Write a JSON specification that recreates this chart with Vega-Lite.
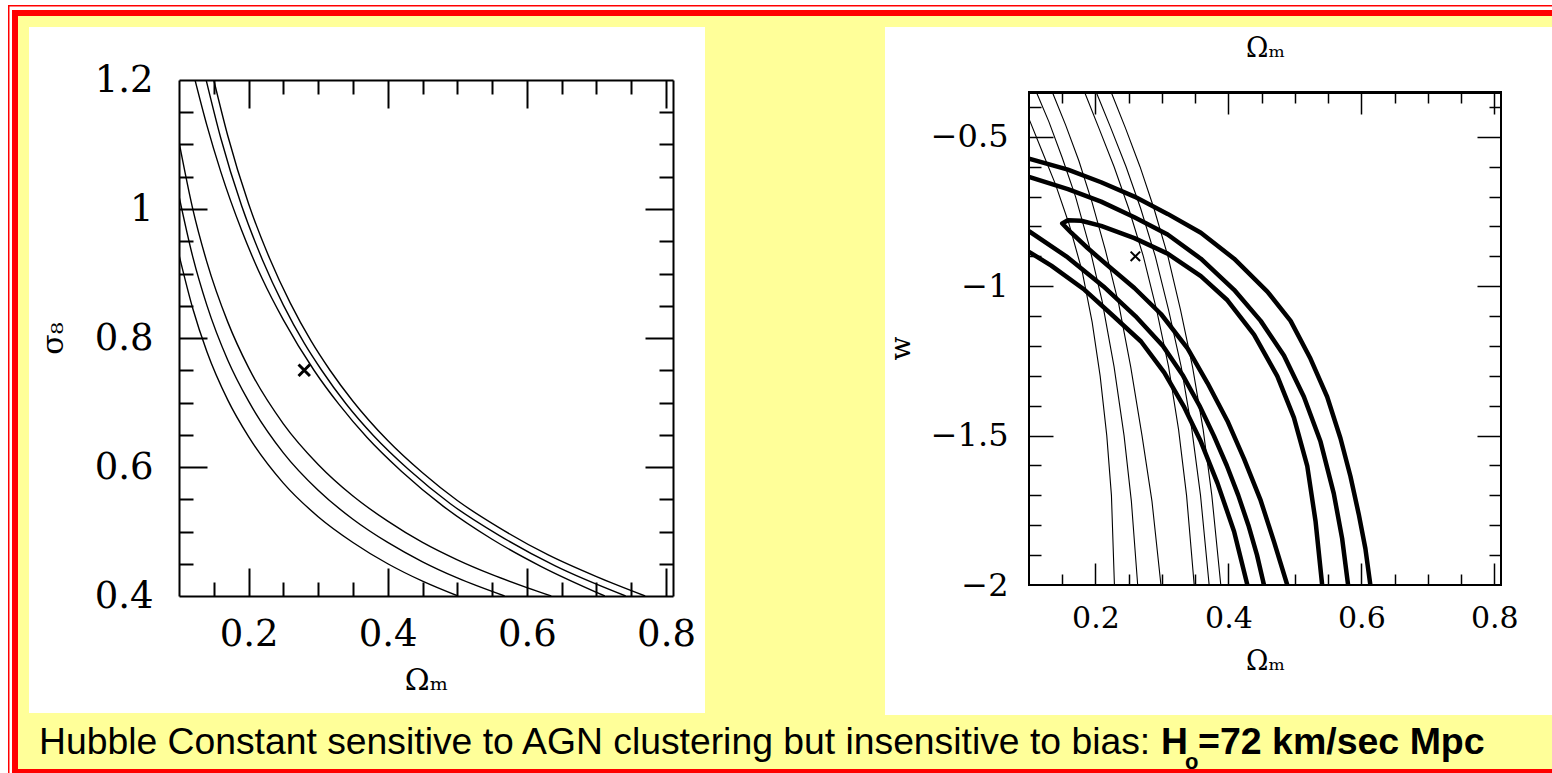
{
  "$schema": "https://vega.github.io/schema/vega-lite/v6.json",
  "usermeta": {"embedOptions": {"actions": false}},
  "background": "white",
  "padding": 0,
  "config": {
    "view": {"stroke": null},
    "axis": {"labelFont": "DejaVu Serif", "titleFont": "DejaVu Serif", "labelColor": "black", "titleColor": "black", "tickColor": "black", "domainColor": "black", "grid": false, "labelFlush": false, "labelOverlap": false, "labelBound": false, "titleFontWeight": "normal", "zindex": 1, "tickWidth": 2, "domainWidth": 2}
  },
  "datasets": {
    "left": [
      {"c": "L1", "x": 0.15, "y": 1.2}, {"c": "L1", "x": 0.17, "y": 1.114}, {"c": "L1", "x": 0.2, "y": 1.008}, {"c": "L1", "x": 0.23, "y": 0.924}, {"c": "L1", "x": 0.26, "y": 0.854}, {"c": "L1", "x": 0.29, "y": 0.795}, {"c": "L1", "x": 0.317, "y": 0.75}, {"c": "L1", "x": 0.35, "y": 0.702}, {"c": "L1", "x": 0.4, "y": 0.641}, {"c": "L1", "x": 0.45, "y": 0.591}, {"c": "L1", "x": 0.5, "y": 0.548}, {"c": "L1", "x": 0.56, "y": 0.506}, {"c": "L1", "x": 0.63, "y": 0.464}, {"c": "L1", "x": 0.7, "y": 0.43}, {"c": "L1", "x": 0.77, "y": 0.4},
      {"c": "L2", "x": 0.139, "y": 1.2}, {"c": "L2", "x": 0.16, "y": 1.11}, {"c": "L2", "x": 0.19, "y": 1.005}, {"c": "L2", "x": 0.22, "y": 0.921}, {"c": "L2", "x": 0.25, "y": 0.851}, {"c": "L2", "x": 0.28, "y": 0.792}, {"c": "L2", "x": 0.305, "y": 0.75}, {"c": "L2", "x": 0.34, "y": 0.698}, {"c": "L2", "x": 0.38, "y": 0.648}, {"c": "L2", "x": 0.43, "y": 0.596}, {"c": "L2", "x": 0.49, "y": 0.543}, {"c": "L2", "x": 0.56, "y": 0.494}, {"c": "L2", "x": 0.64, "y": 0.447}, {"c": "L2", "x": 0.742, "y": 0.4},
      {"c": "L3", "x": 0.123, "y": 1.2}, {"c": "L3", "x": 0.14, "y": 1.13}, {"c": "L3", "x": 0.16, "y": 1.058}, {"c": "L3", "x": 0.19, "y": 0.967}, {"c": "L3", "x": 0.22, "y": 0.891}, {"c": "L3", "x": 0.25, "y": 0.828}, {"c": "L3", "x": 0.294, "y": 0.75}, {"c": "L3", "x": 0.33, "y": 0.697}, {"c": "L3", "x": 0.37, "y": 0.646}, {"c": "L3", "x": 0.42, "y": 0.593}, {"c": "L3", "x": 0.48, "y": 0.539}, {"c": "L3", "x": 0.55, "y": 0.488}, {"c": "L3", "x": 0.62, "y": 0.446}, {"c": "L3", "x": 0.712, "y": 0.4},
      {"c": "L4", "x": 0.1, "y": 1.104}, {"c": "L4", "x": 0.12, "y": 0.999}, {"c": "L4", "x": 0.14, "y": 0.918}, {"c": "L4", "x": 0.17, "y": 0.825}, {"c": "L4", "x": 0.2, "y": 0.754}, {"c": "L4", "x": 0.25, "y": 0.667}, {"c": "L4", "x": 0.3, "y": 0.604}, {"c": "L4", "x": 0.35, "y": 0.555}, {"c": "L4", "x": 0.4, "y": 0.516}, {"c": "L4", "x": 0.45, "y": 0.483}, {"c": "L4", "x": 0.5, "y": 0.456}, {"c": "L4", "x": 0.55, "y": 0.433}, {"c": "L4", "x": 0.6, "y": 0.413}, {"c": "L4", "x": 0.635, "y": 0.4},
      {"c": "L5", "x": 0.1, "y": 1.02}, {"c": "L5", "x": 0.12, "y": 0.925}, {"c": "L5", "x": 0.14, "y": 0.851}, {"c": "L5", "x": 0.17, "y": 0.766}, {"c": "L5", "x": 0.2, "y": 0.702}, {"c": "L5", "x": 0.25, "y": 0.622}, {"c": "L5", "x": 0.3, "y": 0.564}, {"c": "L5", "x": 0.35, "y": 0.519}, {"c": "L5", "x": 0.4, "y": 0.483}, {"c": "L5", "x": 0.45, "y": 0.453}, {"c": "L5", "x": 0.5, "y": 0.428}, {"c": "L5", "x": 0.568, "y": 0.4},
      {"c": "L6", "x": 0.1, "y": 0.929}, {"c": "L6", "x": 0.12, "y": 0.845}, {"c": "L6", "x": 0.14, "y": 0.779}, {"c": "L6", "x": 0.17, "y": 0.704}, {"c": "L6", "x": 0.2, "y": 0.647}, {"c": "L6", "x": 0.25, "y": 0.575}, {"c": "L6", "x": 0.3, "y": 0.523}, {"c": "L6", "x": 0.35, "y": 0.483}, {"c": "L6", "x": 0.4, "y": 0.45}, {"c": "L6", "x": 0.45, "y": 0.423}, {"c": "L6", "x": 0.501, "y": 0.4}
    ],
    "thin": [
      {"c": "C1", "x": 0.1, "y": -0.44}, {"c": "C1", "x": 0.12, "y": -0.55}, {"c": "C1", "x": 0.14, "y": -0.66}, {"c": "C1", "x": 0.16, "y": -0.79}, {"c": "C1", "x": 0.18, "y": -0.95}, {"c": "C1", "x": 0.195, "y": -1.12}, {"c": "C1", "x": 0.207, "y": -1.3}, {"c": "C1", "x": 0.217, "y": -1.5}, {"c": "C1", "x": 0.224, "y": -1.7}, {"c": "C1", "x": 0.2285, "y": -2.0},
      {"c": "C2", "x": 0.111, "y": -0.35}, {"c": "C2", "x": 0.13, "y": -0.45}, {"c": "C2", "x": 0.15, "y": -0.57}, {"c": "C2", "x": 0.17, "y": -0.7}, {"c": "C2", "x": 0.19, "y": -0.86}, {"c": "C2", "x": 0.21, "y": -1.05}, {"c": "C2", "x": 0.228, "y": -1.27}, {"c": "C2", "x": 0.243, "y": -1.5}, {"c": "C2", "x": 0.254, "y": -1.72}, {"c": "C2", "x": 0.2635, "y": -2.0},
      {"c": "C3", "x": 0.135, "y": -0.35}, {"c": "C3", "x": 0.155, "y": -0.46}, {"c": "C3", "x": 0.175, "y": -0.58}, {"c": "C3", "x": 0.195, "y": -0.72}, {"c": "C3", "x": 0.215, "y": -0.88}, {"c": "C3", "x": 0.235, "y": -1.06}, {"c": "C3", "x": 0.253, "y": -1.27}, {"c": "C3", "x": 0.27, "y": -1.5}, {"c": "C3", "x": 0.285, "y": -1.72}, {"c": "C3", "x": 0.2985, "y": -2.0},
      {"c": "R1", "x": 0.1835, "y": -0.35}, {"c": "R1", "x": 0.205, "y": -0.47}, {"c": "R1", "x": 0.228, "y": -0.6}, {"c": "R1", "x": 0.25, "y": -0.74}, {"c": "R1", "x": 0.272, "y": -0.9}, {"c": "R1", "x": 0.292, "y": -1.08}, {"c": "R1", "x": 0.31, "y": -1.27}, {"c": "R1", "x": 0.325, "y": -1.48}, {"c": "R1", "x": 0.337, "y": -1.7}, {"c": "R1", "x": 0.3485, "y": -2.0},
      {"c": "R2", "x": 0.201, "y": -0.35}, {"c": "R2", "x": 0.223, "y": -0.47}, {"c": "R2", "x": 0.246, "y": -0.6}, {"c": "R2", "x": 0.268, "y": -0.74}, {"c": "R2", "x": 0.29, "y": -0.9}, {"c": "R2", "x": 0.31, "y": -1.08}, {"c": "R2", "x": 0.329, "y": -1.27}, {"c": "R2", "x": 0.345, "y": -1.48}, {"c": "R2", "x": 0.358, "y": -1.7}, {"c": "R2", "x": 0.371, "y": -2.0},
      {"c": "R3", "x": 0.2235, "y": -0.35}, {"c": "R3", "x": 0.245, "y": -0.47}, {"c": "R3", "x": 0.267, "y": -0.6}, {"c": "R3", "x": 0.288, "y": -0.74}, {"c": "R3", "x": 0.309, "y": -0.9}, {"c": "R3", "x": 0.328, "y": -1.08}, {"c": "R3", "x": 0.346, "y": -1.27}, {"c": "R3", "x": 0.362, "y": -1.48}, {"c": "R3", "x": 0.375, "y": -1.7}, {"c": "R3", "x": 0.3885, "y": -2.0}
    ],
    "thick": [
      {"c": "u3", "x": 0.1, "y": -0.573}, {"c": "u3", "x": 0.1585, "y": -0.61}, {"c": "u3", "x": 0.2085, "y": -0.652}, {"c": "u3", "x": 0.2585, "y": -0.7}, {"c": "u3", "x": 0.3085, "y": -0.758}, {"c": "u3", "x": 0.3585, "y": -0.821}, {"c": "u3", "x": 0.4085, "y": -0.908}, {"c": "u3", "x": 0.4585, "y": -1.018}, {"c": "u3", "x": 0.4935, "y": -1.116}, {"c": "u3", "x": 0.5235, "y": -1.243}, {"c": "u3", "x": 0.5485, "y": -1.37}, {"c": "u3", "x": 0.5685, "y": -1.509}, {"c": "u3", "x": 0.5835, "y": -1.636}, {"c": "u3", "x": 0.596, "y": -1.763}, {"c": "u3", "x": 0.606, "y": -1.878}, {"c": "u3", "x": 0.6135, "y": -2.0},
      {"c": "u2", "x": 0.1, "y": -0.634}, {"c": "u2", "x": 0.1585, "y": -0.675}, {"c": "u2", "x": 0.2085, "y": -0.717}, {"c": "u2", "x": 0.2585, "y": -0.769}, {"c": "u2", "x": 0.3085, "y": -0.827}, {"c": "u2", "x": 0.3585, "y": -0.908}, {"c": "u2", "x": 0.4085, "y": -1.012}, {"c": "u2", "x": 0.4485, "y": -1.116}, {"c": "u2", "x": 0.4835, "y": -1.232}, {"c": "u2", "x": 0.5135, "y": -1.37}, {"c": "u2", "x": 0.5385, "y": -1.52}, {"c": "u2", "x": 0.5585, "y": -1.694}, {"c": "u2", "x": 0.571, "y": -1.844}, {"c": "u2", "x": 0.58, "y": -2.0},
      {"c": "d2", "x": 0.1, "y": -0.816}, {"c": "d2", "x": 0.156, "y": -0.9}, {"c": "d2", "x": 0.2116, "y": -1.0}, {"c": "d2", "x": 0.26, "y": -1.1}, {"c": "d2", "x": 0.3015, "y": -1.2}, {"c": "d2", "x": 0.3318, "y": -1.3}, {"c": "d2", "x": 0.3565, "y": -1.4}, {"c": "d2", "x": 0.378, "y": -1.5}, {"c": "d2", "x": 0.3975, "y": -1.6}, {"c": "d2", "x": 0.4148, "y": -1.7}, {"c": "d2", "x": 0.43, "y": -1.8}, {"c": "d2", "x": 0.443, "y": -1.9}, {"c": "d2", "x": 0.4535, "y": -2.0},
      {"c": "d3", "x": 0.1, "y": -0.885}, {"c": "d3", "x": 0.1335, "y": -0.931}, {"c": "d3", "x": 0.1835, "y": -1.012}, {"c": "d3", "x": 0.2235, "y": -1.093}, {"c": "d3", "x": 0.2685, "y": -1.185}, {"c": "d3", "x": 0.3035, "y": -1.289}, {"c": "d3", "x": 0.3335, "y": -1.405}, {"c": "d3", "x": 0.3585, "y": -1.52}, {"c": "d3", "x": 0.3835, "y": -1.659}, {"c": "d3", "x": 0.4085, "y": -1.821}, {"c": "d3", "x": 0.4285, "y": -2.0}
    ],
    "loop": [
      {"i": 0, "x": 0.4885, "y": -2.0}, {"i": 1, "x": 0.4685, "y": -1.855}, {"i": 2, "x": 0.4485, "y": -1.717}, {"i": 3, "x": 0.4235, "y": -1.578}, {"i": 4, "x": 0.3985, "y": -1.451}, {"i": 5, "x": 0.3685, "y": -1.324}, {"i": 6, "x": 0.3385, "y": -1.208}, {"i": 7, "x": 0.2985, "y": -1.093}, {"i": 8, "x": 0.2585, "y": -1.006}, {"i": 9, "x": 0.2185, "y": -0.931}, {"i": 10, "x": 0.1885, "y": -0.873}, {"i": 11, "x": 0.1635, "y": -0.821}, {"i": 12, "x": 0.15, "y": -0.79}, {"i": 13, "x": 0.1585, "y": -0.779}, {"i": 14, "x": 0.1785, "y": -0.781}, {"i": 15, "x": 0.2085, "y": -0.798}, {"i": 16, "x": 0.2585, "y": -0.839}, {"i": 17, "x": 0.3085, "y": -0.891}, {"i": 18, "x": 0.3585, "y": -0.966}, {"i": 19, "x": 0.3985, "y": -1.047}, {"i": 20, "x": 0.4385, "y": -1.162}, {"i": 21, "x": 0.4735, "y": -1.301}, {"i": 22, "x": 0.4985, "y": -1.44}, {"i": 23, "x": 0.5185, "y": -1.601}, {"i": 24, "x": 0.531, "y": -1.786}, {"i": 25, "x": 0.541, "y": -2.0}
    ]
  },
  "spacing": 356,
  "bounds": "flush",
  "hconcat": [
    {
      "width": 494,
      "height": 516,
      "resolve": {"axis": {"x": "independent", "y": "independent"}},
      "layer": [
        {"data": {"values": [{}]}, "mark": {"type": "rect", "color": "white"},
         "encoding": {"x": {"datum": -0.155831, "scale": {"domain": [0.1, 0.81], "nice": false, "zero": false}, "axis": null}, "x2": {"datum": 2.074764}, "y": {"datum": 1.324031, "scale": {"domain": [0.4, 1.2], "nice": false, "zero": false}, "axis": null}, "y2": {"datum": 0.125581}}},
        {"data": {"values": [{}]}, "mark": {"type": "rect", "color": "#FFFF99"},
         "encoding": {
           "x": {"datum": -0.131398, "scale": {"domain": [0.1, 0.81], "nice": false, "zero": false}, "axis": {"orient": "top", "values": [0.15, 0.25, 0.3, 0.35, 0.45, 0.5, 0.55, 0.65, 0.7, 0.75], "labels": false, "domain": false, "tickSize": -14, "title": null, "zindex": 2}},
           "x2": {"datum": 2.074764},
           "y": {"datum": 1.299225, "scale": {"domain": [0.4, 1.2], "nice": false, "zero": false}, "axis": {"orient": "right", "values": [0.45, 0.5, 0.55, 0.65, 0.7, 0.75, 0.85, 0.9, 0.95, 1.05, 1.1, 1.15], "labels": false, "domain": false, "tickSize": -14, "title": null, "zindex": 2}},
           "y2": {"datum": 0.131783}}},
        {"data": {"values": [{}]}, "mark": {"type": "rect", "color": "#FF0000"},
         "encoding": {"x": {"datum": -0.14577, "scale": {"domain": [0.1, 0.81], "nice": false, "zero": false}, "axis": null}, "x2": {"datum": 2.074764}, "y": {"datum": 1.316279, "scale": {"domain": [0.4, 1.2], "nice": false, "zero": false}, "axis": null}, "y2": {"datum": 1.313953}}},
        {"data": {"values": [{}]}, "mark": {"type": "rect", "color": "#FF0000"},
         "encoding": {"x": {"datum": -0.14577, "scale": {"domain": [0.1, 0.81], "nice": false, "zero": false}, "axis": null}, "x2": {"datum": -0.143614}, "y": {"datum": 1.316279, "scale": {"domain": [0.4, 1.2], "nice": false, "zero": false}, "axis": null}, "y2": {"datum": 0.125581}}},
        {"data": {"values": [{}]}, "mark": {"type": "rect", "color": "#FF0000"},
         "encoding": {"x": {"datum": -0.140022, "scale": {"domain": [0.1, 0.81], "nice": false, "zero": false}, "axis": null}, "x2": {"datum": 2.074764}, "y": {"datum": 1.308527, "scale": {"domain": [0.4, 1.2], "nice": false, "zero": false}, "axis": null}, "y2": {"datum": 1.299225}}},
        {"data": {"values": [{}]}, "mark": {"type": "rect", "color": "#FF0000"},
         "encoding": {"x": {"datum": -0.140022, "scale": {"domain": [0.1, 0.81], "nice": false, "zero": false}, "axis": null}, "x2": {"datum": -0.131398}, "y": {"datum": 1.308527, "scale": {"domain": [0.4, 1.2], "nice": false, "zero": false}, "axis": null}, "y2": {"datum": 0.125581}}},
        {"data": {"values": [{}]}, "mark": {"type": "rect", "color": "#FF0000"},
         "encoding": {"x": {"datum": -0.140022, "scale": {"domain": [0.1, 0.81], "nice": false, "zero": false}, "axis": null}, "x2": {"datum": 2.074764}, "y": {"datum": 0.131783, "scale": {"domain": [0.4, 1.2], "nice": false, "zero": false}, "axis": null}, "y2": {"datum": 0.125581}}},
        {"data": {"values": [{}]}, "mark": {"type": "rect", "color": "white"},
         "encoding": {
           "x": {"datum": -0.115587, "scale": {"domain": [0.1, 0.81], "nice": false, "zero": false}, "axis": {"orient": "bottom", "values": [0.15, 0.25, 0.3, 0.35, 0.45, 0.5, 0.55, 0.65, 0.7, 0.75], "labels": false, "domain": false, "tickSize": -14, "title": null, "zindex": 2}},
           "x2": {"datum": 0.855991},
           "y": {"datum": 1.282171, "scale": {"domain": [0.4, 1.2], "nice": false, "zero": false}, "axis": {"orient": "left", "values": [0.45, 0.5, 0.55, 0.65, 0.7, 0.75, 0.85, 0.9, 0.95, 1.05, 1.1, 1.15], "labels": false, "domain": false, "tickSize": -14, "title": null, "zindex": 2}},
           "y2": {"datum": 0.218605}}},
        {"data": {"values": [{}]}, "mark": {"type": "rect", "color": "white"},
         "encoding": {
           "x": {"datum": 1.114696, "scale": {"domain": [0.1, 0.81], "nice": false, "zero": false}, "axis": {"orient": "top", "values": [0.2, 0.4, 0.6, 0.8], "labels": false, "domain": true, "tickSize": -28, "title": null, "zindex": 2}},
           "x2": {"datum": 2.074764},
           "y": {"datum": 1.282171, "scale": {"domain": [0.4, 1.2], "nice": false, "zero": false}, "axis": {"orient": "right", "values": [0.6, 0.8, 1], "labels": false, "domain": true, "tickSize": -28, "title": null, "zindex": 2}},
           "y2": {"datum": 0.215504}}},
        {"data": {"values": [{"t": "Hubble Constant sensitive to AGN clustering but insensitive to bias:"}]},
         "mark": {"type": "text", "font": "Liberation Sans", "fontSize": 37.3, "align": "left", "baseline": "alphabetic", "color": "black"},
         "encoding": {"x": {"datum": -0.101215, "scale": {"domain": [0.1, 0.81], "nice": false, "zero": false}, "axis": null}, "y": {"datum": 0.155039, "scale": {"domain": [0.4, 1.2], "nice": false, "zero": false}, "axis": null}, "text": {"field": "t"}}},
        {"data": {"values": [{"t": "H"}]},
         "mark": {"type": "text", "font": "Liberation Sans", "fontWeight": "bold", "fontSize": 37.3, "align": "left", "baseline": "alphabetic", "color": "black"},
         "encoding": {"x": {"datum": 1.511379, "scale": {"domain": [0.1, 0.81], "nice": false, "zero": false}, "axis": null}, "y": {"datum": 0.155039, "scale": {"domain": [0.4, 1.2], "nice": false, "zero": false}, "axis": null}, "text": {"field": "t"}}},
        {"data": {"values": [{"t": "o"}]},
         "mark": {"type": "text", "font": "Liberation Sans", "fontWeight": "bold", "fontSize": 22, "align": "left", "baseline": "alphabetic", "color": "black"},
         "encoding": {"x": {"datum": 1.545867, "scale": {"domain": [0.1, 0.81], "nice": false, "zero": false}, "axis": null}, "y": {"datum": 0.131783, "scale": {"domain": [0.4, 1.2], "nice": false, "zero": false}, "axis": null}, "text": {"field": "t"}}},
        {"data": {"values": [{"t": "=72 km/sec Mpc"}]},
         "mark": {"type": "text", "font": "Liberation Sans", "fontWeight": "bold", "fontSize": 37.5, "align": "left", "baseline": "alphabetic", "color": "black"},
         "encoding": {"x": {"datum": 1.564558, "scale": {"domain": [0.1, 0.81], "nice": false, "zero": false}, "axis": null}, "y": {"datum": 0.155039, "scale": {"domain": [0.4, 1.2], "nice": false, "zero": false}, "axis": null}, "text": {"field": "t"}}},
        {"data": {"name": "left"},
         "mark": {"type": "line", "color": "black", "strokeWidth": 1.4, "interpolate": "monotone", "clip": true},
         "encoding": {
           "x": {"field": "x", "type": "quantitative", "scale": {"domain": [0.1, 0.81], "nice": false, "zero": false},
                 "axis": {"orient": "bottom", "values": [0.2, 0.4, 0.6, 0.8], "format": "~g", "ticks": false, "domain": true, "labelFontSize": 37, "labelPadding": 20, "title": "Ωₘ", "titleFontSize": 30, "titlePadding": 13, "zindex": 2}},
           "y": {"field": "y", "type": "quantitative", "scale": {"domain": [0.4, 1.2], "nice": false, "zero": false},
                 "axis": {"orient": "left", "values": [0.4, 0.6, 0.8, 1, 1.2], "format": "~g", "ticks": false, "domain": true, "labelFontSize": 37, "labelPadding": 26, "title": "σ₈", "titleFontSize": 30, "titlePadding": 26, "zindex": 2}},
           "detail": {"field": "c"}}},
        {"data": {"values": [{"x": 0.28, "y": 0.75}]},
         "mark": {"type": "point", "shape": "M-1,-1L1,1M1,-1L-1,1", "filled": false, "color": "black", "strokeWidth": 3, "size": 130, "opacity": 1},
         "encoding": {
           "x": {"field": "x", "type": "quantitative", "scale": {"domain": [0.1, 0.81], "nice": false, "zero": false}, "axis": {"orient": "bottom", "values": [0.2, 0.4, 0.6, 0.8], "labels": false, "domain": false, "tickSize": -28, "title": null, "zindex": 2}},
           "y": {"field": "y", "type": "quantitative", "scale": {"domain": [0.4, 1.2], "nice": false, "zero": false}, "axis": {"orient": "left", "values": [0.6, 0.8, 1], "labels": false, "domain": false, "tickSize": -28, "title": null, "zindex": 2}}}}
      ]
    },
    {
      "width": 472,
      "height": 505,
      "resolve": {"axis": {"x": "independent", "y": "independent"}},
      "layer": [
        {"data": {"values": [{}]},
         "mark": {"type": "rect", "filled": false, "stroke": "black", "strokeWidth": 2},
         "encoding": {
           "x": {"datum": 0.1, "type": "quantitative", "scale": {"domain": [0.1, 0.81], "nice": false, "zero": false},
                 "axis": {"orient": "bottom", "values": [0.2, 0.4, 0.6, 0.8], "format": "~g", "ticks": false, "domain": false, "labelFontSize": 30, "labelPadding": 18, "title": "Ωₘ", "titleFontSize": 27, "titlePadding": 15, "zindex": 2}},
           "x2": {"datum": 0.81},
           "y": {"datum": -2, "type": "quantitative", "scale": {"domain": [-2, -0.30984], "nice": false, "zero": false},
                 "axis": {"orient": "left", "values": [-0.5, -1, -1.5, -2], "format": "~g", "ticks": false, "domain": false, "labelFontSize": 32, "labelPadding": 21, "title": "w", "titleFontSize": 28, "titlePadding": 15, "titleY": 268, "zindex": 2}},
           "y2": {"datum": -0.35}}},
        {"data": {"name": "thin"},
         "mark": {"type": "line", "color": "black", "strokeWidth": 1.1, "clip": true},
         "encoding": {
           "x": {"field": "x", "type": "quantitative", "scale": {"domain": [0.1, 0.81], "nice": false, "zero": false}, "axis": {"orient": "bottom", "values": [0.2, 0.4, 0.6, 0.8], "labels": false, "domain": false, "tickSize": -22, "tickWidth": 1.5, "title": null, "zindex": 2}},
           "y": {"field": "y", "type": "quantitative", "scale": {"domain": [-2, -0.30984], "nice": false, "zero": false}, "axis": {"orient": "left", "values": [-0.5, -1, -1.5], "labels": false, "domain": false, "tickSize": -24, "tickWidth": 1.5, "title": null, "zindex": 2}},
           "detail": {"field": "c"}}},
        {"data": {"name": "thick"},
         "mark": {"type": "line", "color": "black", "strokeWidth": 4.5, "strokeJoin": "round", "clip": true},
         "encoding": {
           "x": {"field": "x", "type": "quantitative", "scale": {"domain": [0.1, 0.81], "nice": false, "zero": false}, "axis": {"orient": "bottom", "values": [0.15, 0.25, 0.3, 0.35, 0.45, 0.5, 0.55, 0.65, 0.7, 0.75], "labels": false, "domain": false, "tickSize": -11, "tickWidth": 1.5, "title": null, "zindex": 2}},
           "y": {"field": "y", "type": "quantitative", "scale": {"domain": [-2, -0.30984], "nice": false, "zero": false}, "axis": {"orient": "left", "values": [-0.4, -0.6, -0.7, -0.8, -0.9, -1.1, -1.2, -1.3, -1.4, -1.6, -1.7, -1.8, -1.9], "labels": false, "domain": false, "tickSize": -12, "tickWidth": 1.5, "title": null, "zindex": 2}},
           "detail": {"field": "c"}}},
        {"data": {"name": "loop"},
         "mark": {"type": "line", "color": "black", "strokeWidth": 4.5, "strokeJoin": "round", "clip": true},
         "encoding": {
           "x": {"field": "x", "type": "quantitative", "scale": {"domain": [0.1, 0.81], "nice": false, "zero": false}, "axis": {"orient": "top", "offset": -12, "values": [0.2, 0.4, 0.6, 0.8], "labels": false, "domain": true, "domainWidth": 3, "tickSize": -22, "tickWidth": 1.5, "title": "Ωₘ", "titleFontSize": 27, "titlePadding": 29, "zindex": 2}},
           "y": {"field": "y", "type": "quantitative", "scale": {"domain": [-2, -0.30984], "nice": false, "zero": false}, "axis": {"orient": "right", "values": [-0.5, -1, -1.5], "labels": false, "domain": false, "tickSize": -24, "tickWidth": 1.5, "title": null, "zindex": 2}},
           "order": {"field": "i"}}},
        {"data": {"values": [{"x": 0.26, "y": -0.9}]},
         "mark": {"type": "point", "shape": "M-1,-1L1,1M1,-1L-1,1", "filled": false, "color": "black", "strokeWidth": 2, "size": 90, "opacity": 1},
         "encoding": {
           "x": {"field": "x", "type": "quantitative", "scale": {"domain": [0.1, 0.81], "nice": false, "zero": false}, "axis": {"orient": "top", "offset": -12, "values": [0.15, 0.25, 0.3, 0.35, 0.45, 0.5, 0.55, 0.65, 0.7, 0.75], "labels": false, "domain": false, "tickSize": -11, "tickWidth": 1.5, "title": null, "zindex": 2}},
           "y": {"field": "y", "type": "quantitative", "scale": {"domain": [-2, -0.30984], "nice": false, "zero": false}, "axis": {"orient": "right", "values": [-0.4, -0.6, -0.7, -0.8, -0.9, -1.1, -1.2, -1.3, -1.4, -1.6, -1.7, -1.8, -1.9], "labels": false, "domain": false, "tickSize": -12, "tickWidth": 1.5, "title": null, "zindex": 2}}}}
      ]
    }
  ]
}
